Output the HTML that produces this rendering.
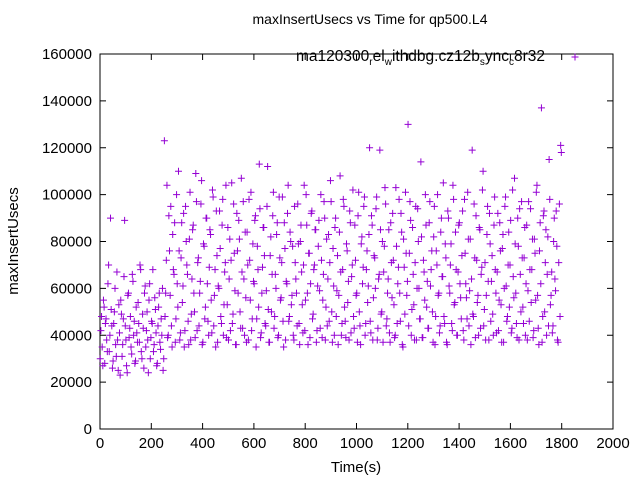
<!DOCTYPE html>
<html><head><meta charset="utf-8"><style>
body{margin:0;background:#fff}
svg{display:block;font-family:"Liberation Sans",sans-serif}
</style></head><body>
<svg id="chart" width="640" height="480">
<text x="370" y="24" font-size="14" text-anchor="middle">maxInsertUsecs vs Time for qp500.L4</text>
<rect x="100" y="54" width="513" height="375" fill="none" stroke="#000"/>
<g id="axes"></g>
<text x="356" y="472" font-size="15" text-anchor="middle">Time(s)</text>
<text transform="translate(18,241) rotate(-90)" font-size="15" text-anchor="middle">maxInsertUsecs</text>
<g>
<text x="545" y="61" font-size="15.5" text-anchor="end">ma120300<tspan font-size="10" dy="4">r</tspan><tspan dy="-4">el</tspan><tspan font-size="10" dy="4">w</tspan><tspan dy="-4">ithdbg.cz12b</tspan><tspan font-size="10" dy="4">s</tspan><tspan dy="-4">ync</tspan><tspan font-size="10" dy="4">c</tspan><tspan dy="-4">8r32</tspan></text>
<path d="M571.5 57h7M575 53.5v7" stroke="#9400d3" stroke-width="1"/>
</g>
<path id="pts" fill="none" stroke="#9400d3" stroke-width="1"/>
</svg>
<script>
const xTicks=[0,200,400,600,800,1000,1200,1400,1600,1800,2000];
const yTicks=[0,20000,40000,60000,80000,100000,120000,140000,160000];
const timeStep=5;
const valuesA=[
30,48,27,52,45,38,62,33,90,44,29,50,36,67,25,41,55,31,47,89,38,24,58,43,35,66,40,28,52,37,45,70,33,49,26,61,42,38,55,30,46,68,36,51,27,44,58,34,40,25,
123,58,104,40,76,95,35,68,88,47,62,110,38,73,54,92,42,80,66,36,
101,49,85,58,39,97,71,44,63,106,37,78,52,90,46,69,83,41,99,57,
35,74,61,93,48,87,40,67,104,53,38,81,72,45,96,59,36,76,89,50,
107,43,64,84,37,70,98,55,42,79,62,91,47,68,113,39,58,86,74,44,
95,51,37,82,66,101,48,60,88,40,73,56,99,35,77,63,92,46,84,53,
78,38,71,58,96,45,80,67,41,104,55,87,36,75,62,93,49,70,85,42,
78,59,100,39,66,90,52,44,83,71,97,37,61,86,48,74,57,108,40,68,
95,46,79,54,38,88,65,102,43,72,58,91,50,36,82,69,99,45,76,61,
120,41,87,56,73,94,38,64,119,49,80,67,103,44,58,85,37,71,92,53,
40,78,62,98,46,84,35,69,101,57,130,75,89,51,66,38,95,60,80,47,
114,39,72,55,87,63,43,97,68,50,82,36,76,100,58,44,90,65,48,79,
37,93,61,70,45,104,53,84,40,67,88,56,74,42,98,62,47,81,59,36,
119,48,73,91,54,40,85,66,102,44,71,57,95,38,79,63,49,87,68,41,
92,55,76,37,83,60,99,46,70,52,89,43,65,107,58,39,78,94,50,73,
45,86,62,38,97,68,54,81,42,75,101,57,36,88,137,48,93,71,40,82,
115,53,67,44,90,59,78,37,96,121];
const valuesB=[
42,35,55,28,47,33,70,40,51,26,45,60,31,38,53,23,49,36,65,44,27,57,39,48,32,63,46,29,41,54,37,68,30,43,58,35,50,24,62,39,45,33,56,41,28,52,37,47,60,30,
48,72,39,91,57,44,83,66,37,100,52,76,41,88,61,35,95,70,46,81,
38,64,87,50,109,42,73,58,96,36,79,47,90,62,40,85,55,102,44,68,
93,37,60,77,45,98,53,71,39,86,64,42,105,49,75,36,92,58,81,43,
67,97,40,56,84,38,72,101,47,63,89,35,78,52,94,41,69,86,45,59,
112,37,74,50,91,43,66,83,39,99,55,71,46,88,38,62,104,48,80,57,
40,95,64,44,79,36,87,53,70,42,100,58,75,39,92,47,68,85,37,61,
89,43,72,55,97,38,81,64,46,106,50,77,40,90,59,36,84,67,45,98,
52,39,76,63,93,41,70,48,87,57,37,101,44,79,62,95,40,68,54,83,
46,91,38,74,60,99,43,66,85,50,37,78,96,47,64,41,88,56,72,39,
103,45,69,58,92,36,81,49,75,63,44,97,40,86,53,71,38,94,60,47,
82,39,67,100,52,43,88,61,76,37,95,48,70,57,41,84,65,105,45,73,
36,90,58,79,42,98,54,68,40,87,62,47,93,38,75,56,101,44,81,64,
49,96,39,72,57,86,43,69,110,51,38,83,63,92,46,74,40,99,58,67,
42,88,53,77,37,95,61,48,84,70,41,102,56,79,45,90,38,66,97,52,
73,40,87,59,46,94,68,39,81,55,104,43,76,62,37,91,50,85,66,44,
98,57,41,80,64,93,38,71,48,118];
const X=t=>100+t/2000*513, Y=v=>429-v/160000*375;
const ax=document.getElementById('axes');const NS='http://www.w3.org/2000/svg';
let d='';
xTicks.forEach(t=>{const x=X(t);d+=`M${x} 429v-6M${x} 54v6`;
const tx=document.createElementNS(NS,'text');tx.setAttribute('x',x);tx.setAttribute('y',448);tx.setAttribute('font-size','15');tx.setAttribute('text-anchor','middle');tx.textContent=t;


ax.appendChild(tx);});
yTicks.forEach(v=>{const y=Y(v);d+=`M100 ${y}h6M613 ${y}h-6`;
const tx=document.createElementNS(NS,'text');tx.setAttribute('x',92);tx.setAttribute('y',y+5);tx.setAttribute('font-size','15');tx.setAttribute('text-anchor','end');tx.textContent=v;


ax.appendChild(tx);});
const tp=document.createElementNS(NS,'path');tp.setAttribute('d',d);tp.setAttribute('stroke','#000');


ax.appendChild(tp);
let p='';
function addPts(arr,off){arr.forEach((v,i)=>{const x=X(i*timeStep+off),y=Y(v*1000);p+=`M${x-3.5} ${y}h7M${x} ${y-3.5}v7`;});}
addPts(valuesA,1);
addPts(valuesB,3.5);
document.getElementById('pts').setAttribute('d',p);
</script>
</body></html>
